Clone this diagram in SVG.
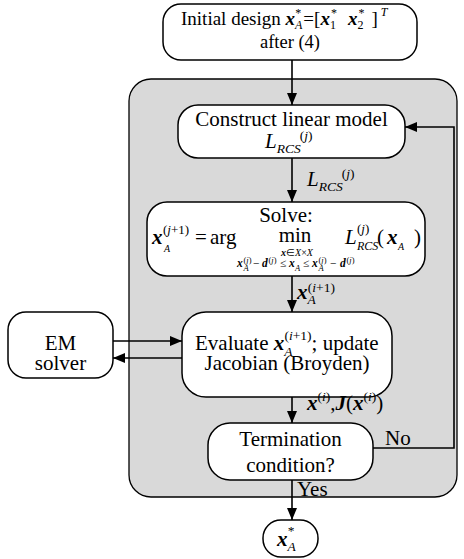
<svg xmlns="http://www.w3.org/2000/svg" width="464" height="559" viewBox="0 0 464 559" font-family="Liberation Serif, serif">
<defs>
<marker id="ah" markerUnits="userSpaceOnUse" markerWidth="13" markerHeight="11" refX="12" refY="5" orient="auto">
<path d="M0,0 L12,5 L0,10 Z" fill="#000"/>
</marker>
<style>
.box{fill:#fff;stroke:#000;stroke-width:1.5}
.grp{fill:#d9d9d9;stroke:#000;stroke-width:1.3}
.ln{fill:none;stroke:#000;stroke-width:1.6;marker-end:url(#ah)}
text{font-family:'Liberation Serif','Times New Roman',serif;font-size:21px;fill:#000}
.c{text-anchor:middle}
.bi{font-weight:bold;font-style:italic}
.i{font-style:italic}
.s{font-size:13.5px}
.ss{font-size:8.5px}
.t1{font-size:12px}
</style>
</defs>
<rect class="grp" x="129" y="79" width="328" height="418" rx="22"/>

<g id="initial">
<rect class="box" x="163" y="4" width="254" height="56" rx="18"/>
<text style="font-size:19px" x="181" y="25">Initial design <tspan class="bi">x</tspan><tspan class="i t1" dy="4">A</tspan><tspan class="t1" dx="-7" dy="-12">*</tspan><tspan dx="2" dy="8">=[</tspan><tspan class="bi">x</tspan><tspan class="t1" dy="4">1</tspan><tspan class="t1" dx="-5" dy="-12">*</tspan><tspan dx="11" dy="8" class="bi">x</tspan><tspan class="t1" dy="4">2</tspan><tspan class="t1" dx="-5" dy="-12">*</tspan><tspan dx="7" dy="8">]</tspan><tspan class="i t1" dx="3" dy="-9">T</tspan></text>
<text class="c" style="font-size:18.5px" x="290" y="48">after (4)</text>
</g>

<g id="construct">
<rect class="box" x="178" y="105" width="227" height="53" rx="20"/>
<text class="c" x="291.5" y="126">Construct linear model</text>
<text x="265" y="148"><tspan class="i">L</tspan><tspan class="i s" dy="5">RCS</tspan><tspan class="s" dx="-1" dy="-13">(<tspan class="i">j</tspan>)</tspan></text>
</g>

<g id="solve">
<rect class="box" x="147" y="202" width="278" height="74" rx="20"/>
<text class="c" x="286" y="222">Solve:</text>
<text x="152" y="244" class="bi">x</text>
<text x="163" y="234" style="font-size:13px">(<tspan class="i">j</tspan>+1)</text>
<text x="164" y="252" class="i" style="font-size:10px">A</text>
<text x="195" y="244">=</text><text x="210" y="244">arg</text>
<text class="c" x="295" y="242">min</text>
<text class="c" x="297" y="256" style="font-size:10px"><tspan class="bi">x</tspan>∈<tspan class="i">X</tspan>×<tspan class="i">X</tspan></text>
<text y="267" style="font-size:11.5px"><tspan x="237" class="bi">x</tspan><tspan x="243.5" y="263" class="ss">(<tspan class="i">j</tspan>)</tspan><tspan x="243.5" y="271" class="i ss">A</tspan><tspan x="253" y="267">−</tspan><tspan x="262" class="bi">d</tspan><tspan x="268.5" y="263" class="ss">(<tspan class="i">j</tspan>)</tspan><tspan x="280" y="267">≤</tspan><tspan x="289" class="bi">x</tspan><tspan x="295" y="271" class="i ss">A</tspan><tspan x="303" y="267">≤</tspan><tspan x="312" class="bi">x</tspan><tspan x="318.5" y="263" class="ss">(<tspan class="i">j</tspan>)</tspan><tspan x="318.5" y="271" class="i ss">A</tspan><tspan x="330" y="267">−</tspan><tspan x="340" class="bi">d</tspan><tspan x="346.5" y="263" class="ss">(<tspan class="i">j</tspan>)</tspan></text>
<text x="345" y="244" class="i">L</text>
<text x="357" y="233" style="font-size:13px">(<tspan class="i">j</tspan>)</text>
<text x="357" y="250" class="i" style="font-size:12px">RCS</text>
<text x="377" y="244">(</text><text x="387" y="244" class="bi">x</text><text x="398" y="250" class="i" style="font-size:10px">A</text><text x="414" y="244">)</text>
</g>

<g id="evaluate">
<rect class="box" x="182" y="312" width="210" height="85" rx="24"/>
<text x="195" y="350">Evaluate <tspan class="bi">x</tspan><tspan class="i s" dy="6">A</tspan><tspan class="s" dx="-8" dy="-16">(<tspan class="i">i</tspan>+1)</tspan><tspan dy="10">; update</tspan></text>
<text class="c" x="287" y="370">Jacobian (Broyden)</text>
</g>

<g id="em">
<rect class="box" x="8" y="312" width="105" height="66" rx="18"/>
<text class="c" x="60.5" y="350">EM</text>
<text class="c" x="60.5" y="370">solver</text>
</g>

<g id="termination">
<rect class="box" x="208" y="423" width="165" height="57" rx="22"/>
<text class="c" x="290.5" y="446">Termination</text>
<text class="c" x="290.5" y="472">condition?</text>
</g>

<g id="output">
<rect class="box" x="263" y="520" width="55" height="37" rx="18"/>
<text x="277" y="546"><tspan class="bi">x</tspan><tspan class="i s" dy="5">A</tspan><tspan class="s" dx="-8" dy="-16">*</tspan></text>
</g>

<g id="connectors">
<line class="ln" x1="292" y1="60" x2="292" y2="105"/>
<line class="ln" x1="292" y1="158" x2="292" y2="202"/>
<line class="ln" x1="292" y1="276" x2="292" y2="312"/>
<line class="ln" x1="292" y1="397" x2="292" y2="423"/>
<line class="ln" x1="292" y1="480" x2="292" y2="520"/>
<line class="ln" x1="113" y1="341" x2="182" y2="341"/>
<line class="ln" x1="182" y1="358" x2="113" y2="358"/>
<polyline class="ln" points="373,448 454,448 454,127 405,127"/>
<text x="307" y="186"><tspan class="i">L</tspan><tspan class="i s" dy="5">RCS</tspan><tspan class="s" dx="-1" dy="-13">(<tspan class="i">j</tspan>)</tspan></text>
<text x="297" y="299"><tspan class="bi">x</tspan><tspan class="i s" dy="5">A</tspan><tspan class="s" dx="-8" dy="-12">(<tspan class="i">i</tspan>+1)</tspan></text>
<text x="307" y="410"><tspan class="bi">x</tspan><tspan class="s" dy="-9">(<tspan class="i">i</tspan>)</tspan><tspan dy="9">,</tspan><tspan class="bi">J</tspan>(<tspan class="bi">x</tspan><tspan class="s" dy="-9">(<tspan class="i">i</tspan>)</tspan><tspan dy="9">)</tspan></text>
<text x="385" y="445">No</text>
<text x="297" y="496">Yes</text>
</g>
</svg>
